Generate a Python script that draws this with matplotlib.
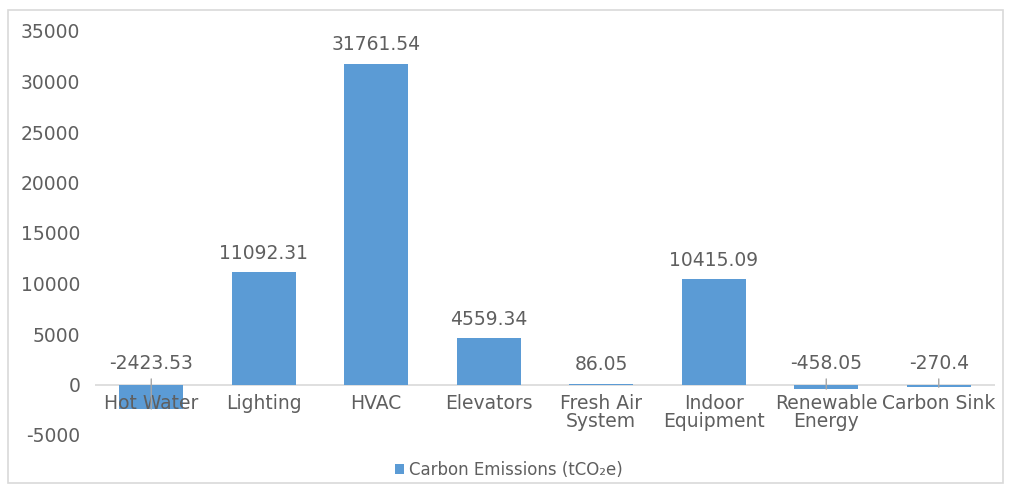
import matplotlib
matplotlib.use("Agg")
import matplotlib.pyplot as plt
from matplotlib.patches import Rectangle

categories = ["Hot Water", "Lighting", "HVAC", "Elevators", "Fresh Air\nSystem",
              "Indoor\nEquipment", "Renewable\nEnergy", "Carbon Sink"]
values = [-2423.53, 11092.31, 31761.54, 4559.34, 86.05, 10415.09, -458.05, -270.4]
labels = ["-2423.53", "11092.31", "31761.54", "4559.34", "86.05", "10415.09", "-458.05", "-270.4"]
yticks = [-5000, 0, 5000, 10000, 15000, 20000, 25000, 30000, 35000]
series_name = "Carbon Emissions (tCO₂e)"

plt.rcParams['font.family'] = ['DejaVu Sans']
gray = "#5f5f5f"
blue = "#5b9bd5"
fs = 13.5

fig = plt.figure(figsize=(10.17, 4.93), dpi=100)
fig.patches.append(Rectangle((8/1017, 10/493), 995/1017, 473/493, transform=fig.transFigure,
                             fill=False, edgecolor="#d9d9d9", linewidth=1.2))
ax = fig.add_axes([95/1017, 58/493, 900/1017, 404/493])
x = list(range(len(categories)))
bars = ax.bar(x, values, width=0.57, color=blue, label=series_name, zorder=2)
ax.set_xlim(-0.5, len(categories) - 0.5)
ax.set_ylim(-5000, 35000)
ax.set_yticks(yticks)
ax.set_yticklabels([str(t) for t in yticks], fontsize=fs, color=gray)
for s in ax.spines.values():
    s.set_visible(False)
ax.axhline(0, color="#d9d9d9", linewidth=1.2, zorder=1)
ax.tick_params(axis='y', length=0, pad=10.5)
ax.tick_params(axis='x', length=0)
ax.set_xticks([])
for xi, c in zip(x, categories):
    ax.annotate(c, xy=(xi, 0), xytext=(0, -6.5), textcoords="offset points",
                ha="center", va="top", fontsize=fs, color=gray, linespacing=0.95, zorder=3)
for xi, v, lab in zip(x, values, labels):
    if v >= 0:
        ax.annotate(lab, xy=(xi, v), xytext=(0, 7), textcoords="offset points",
                    ha="center", va="bottom", fontsize=fs, color=gray)
    else:
        ax.annotate(lab, xy=(xi, v), xytext=(xi, 1100), textcoords="data",
                    ha="center", va="bottom", fontsize=fs, color=gray,
                    arrowprops=dict(arrowstyle="-", color="#a6a6a6", lw=1,
                                    shrinkA=2, shrinkB=0))
leg = fig.legend(handles=[bars], labels=[series_name], loc="center",
                 bbox_to_anchor=(0.5, 23/493), frameon=False, fontsize=12,
                 handlelength=0.55, handleheight=0.55, handletextpad=0.3)
for t in leg.get_texts():
    t.set_color(gray)
fig.savefig("out.png", dpi=100)
